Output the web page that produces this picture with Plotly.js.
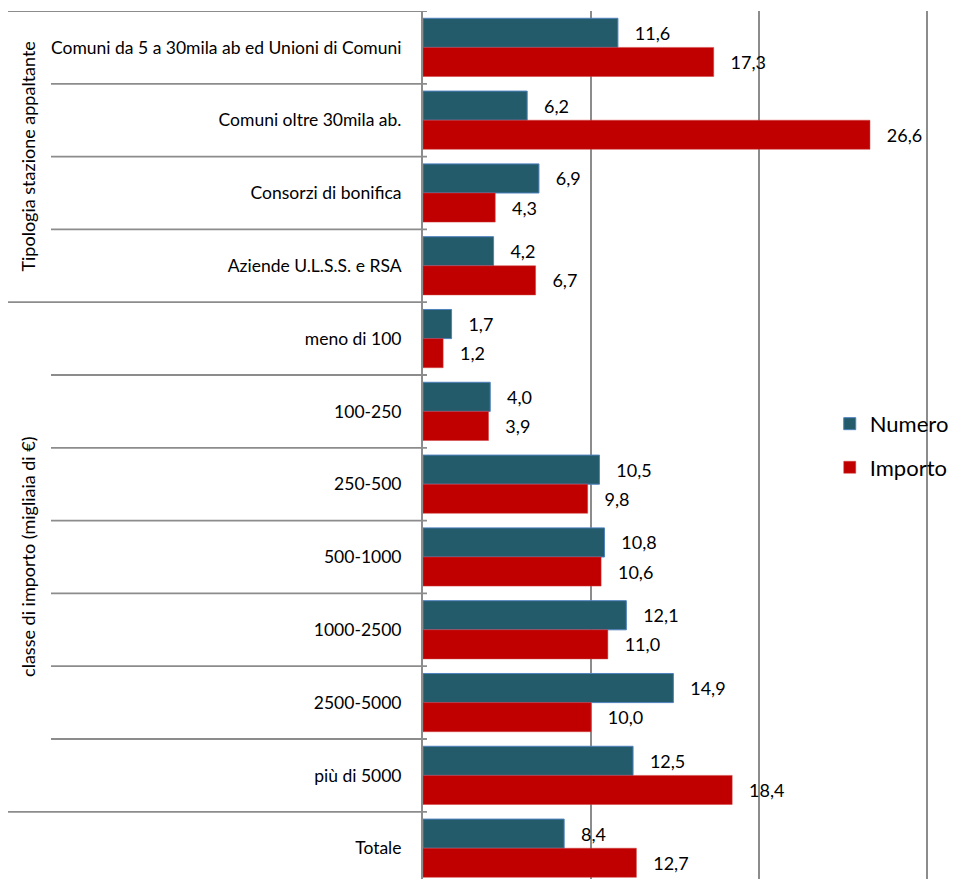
<!DOCTYPE html>
<html><head><meta charset="utf-8">
<script src="https://cdn.plot.ly/plotly-3.0.1.min.js"></script>
<style>html,body{margin:0;padding:0;overflow:hidden;background:#fff}</style>
</head><body><div id="chart" style="width:954px;height:879px"></div>
<script>
const categories = ["Comuni da 5 a 30mila ab ed Unioni di Comuni","Comuni oltre 30mila ab.","Consorzi di bonifica","Aziende U.L.S.S. e RSA","meno di 100","100-250","250-500","500-1000","1000-2500","2500-5000","più di 5000","Totale"];
const numero = [11.6, 6.2, 6.9, 4.2, 1.7, 4.0, 10.5, 10.8, 12.1, 14.9, 12.5, 8.4];
const importo = [17.3, 26.6, 4.3, 6.7, 1.2, 3.9, 9.8, 10.6, 11.0, 10.0, 18.4, 12.7];
const groupNames = ["Tipologia stazione appaltante", "classe di importo (migliaia di €)", ""];
const groupStart = [0, 4, 11];
const groupEnd = [3, 10, 11];

const FONT = "Lato, 'Open Sans', sans-serif";
const traces = [
  {type:'bar', orientation:'h', name:'Numero', y:categories, x:numero, legendgroup:'a',
   marker:{color:'#235B6A', line:{color:'#4F81BD', width:1}},
   texttemplate:'   %{x:.1f}', textposition:'outside', cliponaxis:false,
   textfont:{family:FONT, size:18, color:'#000'}},
  {type:'bar', orientation:'h', name:'Importo', y:categories, x:importo, legendgroup:'b',
   marker:{color:'#C00000', line:{color:'#D04040', width:0.5}},
   texttemplate:'   %{x:.1f}', textposition:'outside', cliponaxis:false,
   textfont:{family:FONT, size:18, color:'#000'}}
];

const shapes = [];
const isGroupBoundary = new Set(groupStart.concat([0]));
for (let i = 0; i < categories.length; i++) {
  const major = isGroupBoundary.has(i);
  shapes.push({type:'line', xref:'paper', yref:'y', x0: major ? -0.7815 : -0.7006, x1: 0.0075,
    y0: i - 0.5, y1: i - 0.5, line:{color:'#8C8C8C', width:1.8}});
}
const annotations = [];
for (let g = 0; g < groupNames.length; g++) {
  if (!groupNames[g]) continue;
  annotations.push({xref:'paper', yref:'y', x:-0.744, y:(groupStart[g] + groupEnd[g]) / 2,
    text:groupNames[g], textangle:-90, showarrow:false, xanchor:'center', yanchor:'middle',
    font:{family:FONT, size:18, color:'#000'}});
}

const layout = {
  width:954, height:879,
  margin:{l:423, r:0, t:11, b:0},
  barmode:'group', bargap:0.2, bargroupgap:0,
  separators:',.',
  paper_bgcolor:'#fff', plot_bgcolor:'#fff',
  font:{family:FONT, color:'#000'},
  xaxis:{range:[0,31.6], dtick:10, showticklabels:false, showgrid:true, gridcolor:'#8C8C8C', gridwidth:1.5,
    zeroline:false, showline:false, ticks:'', fixedrange:true},
  yaxis:{type:'category', range:[11.423, -0.5], showgrid:false, zeroline:false,
    showline:true, linecolor:'#8C8C8C', linewidth:2, ticks:'', ticklabelstandoff:16,
    tickfont:{family:FONT, size:17.5, color:'#000'}},
  showlegend:true,
  legend:{x:0.766, xanchor:'left', y:0.499, yanchor:'middle', bgcolor:'rgba(0,0,0,0)',
    font:{family:FONT, size:22, color:'#000'}, tracegroupgap:12, itemwidth:30},
  shapes:shapes, annotations:annotations
};
Plotly.newPlot('chart', traces, layout, {displayModeBar:false, staticPlot:true});
</script></body></html>
